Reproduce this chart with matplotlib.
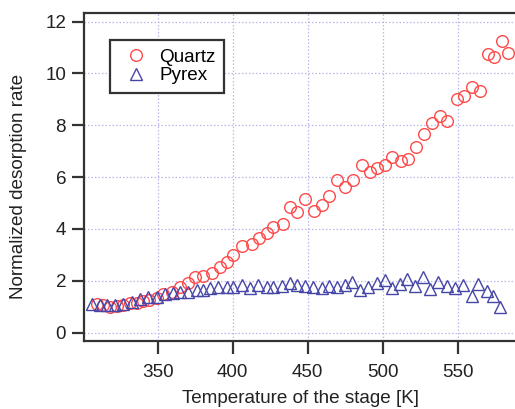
import matplotlib
matplotlib.use("Agg")
import matplotlib.pyplot as plt

plt.rcParams['font.family'] = ['Liberation Sans', 'DejaVu Sans']

# Quartz: temperature [K], normalized rate
quartz_t = [309.3, 313.5, 318.2, 322.7, 326.9, 331.5, 336.0, 340.2, 344.2, 349.3,
            353.5, 359.3, 364.9, 370.2, 374.9, 380.2, 386.0, 391.5, 396.0, 400.2,
            406.0, 412.7, 417.5, 422.7, 426.9, 433.3, 438.2, 442.9, 448.2, 454.2,
            459.3, 464.4, 469.3, 474.9, 480.2, 486.0, 491.5, 496.4, 501.5, 506.4,
            512.0, 516.7, 522.2, 527.5, 532.7, 538.2, 543.1, 549.3, 554.2, 559.5,
            564.8, 570.2, 574.4, 579.3, 583.7]
quartz_r = [1.10, 1.05, 1.00, 1.02, 1.06, 1.13, 1.15, 1.21, 1.25, 1.35,
            1.50, 1.56, 1.75, 1.90, 2.13, 2.19, 2.29, 2.53, 2.74, 3.00,
            3.35, 3.42, 3.65, 3.85, 4.09, 4.19, 4.85, 4.67, 5.16, 4.71,
            4.93, 5.27, 5.89, 5.63, 5.89, 6.47, 6.21, 6.34, 6.47, 6.77,
            6.64, 6.71, 7.18, 7.67, 8.10, 8.36, 8.16, 9.00, 9.13, 9.47,
            9.34, 10.74, 10.63, 11.25, 10.80]

# Pyrex
pyrex_t = [306.0, 311.5, 316.0, 321.5, 327.1, 332.7, 338.2, 343.7, 349.3, 354.9,
           360.4, 364.9, 370.4, 376.0, 380.4, 384.9, 390.4, 396.0, 400.4, 406.0,
           411.5, 417.1, 422.7, 427.1, 432.7, 438.2, 442.7, 448.2, 453.7, 459.3,
           464.4, 469.3, 474.9, 479.3, 484.9, 490.4, 496.0, 501.5, 506.0, 511.5,
           516.0, 521.5, 527.1, 531.5, 537.1, 542.7, 548.2, 553.7, 559.3, 563.7,
           569.3, 573.7, 578.2]
pyrex_r = [1.10, 1.05, 1.08, 1.08, 1.11, 1.17, 1.30, 1.37, 1.39, 1.50,
           1.52, 1.55, 1.58, 1.65, 1.65, 1.71, 1.77, 1.77, 1.77, 1.84,
           1.71, 1.84, 1.77, 1.77, 1.80, 1.93, 1.84, 1.80, 1.77, 1.71,
           1.80, 1.77, 1.84, 1.97, 1.65, 1.77, 1.90, 2.03, 1.71, 1.88,
           2.06, 1.80, 2.13, 1.67, 1.94, 1.80, 1.71, 1.84, 1.42, 1.88,
           1.62, 1.42, 0.98]

x_ticks = [350, 400, 450, 500, 550]
y_ticks = [0, 2, 4, 6, 8, 10, 12]

fs = 13.6

fig = plt.figure(figsize=(5.15, 4.09), dpi=100)
ax = fig.add_axes([0.1637, 0.167, 0.8363, 0.8005])

ax.plot(quartz_t, quartz_r, linestyle='none', marker='o', ms=8.4,
        mfc='none', mec='#ff4a4a', mew=1.0, label='Quartz')
ax.plot(pyrex_t, pyrex_r, linestyle='none', marker='^', ms=9.2,
        mfc='none', mec='#4646a8', mew=1.0, label='Pyrex')

ax.set_xlim(301.1, 588.2)
ax.set_ylim(-0.31, 12.32)
ax.set_xticks(x_ticks)
ax.set_yticks(y_ticks)

ax.grid(True, color='#b8b8ea', linestyle=(0, (1.2, 1.6)), linewidth=0.9)
ax.set_axisbelow(True)

for side in ['left', 'bottom', 'top']:
    ax.spines[side].set_linewidth(1.6)
    ax.spines[side].set_color('#333333')
ax.spines['right'].set_visible(False)

ax.tick_params(axis='both', direction='out', width=1.6, color='#333333',
               labelsize=fs, labelcolor='#222222')
ax.tick_params(axis='x', length=9.5, pad=7)
ax.tick_params(axis='y', length=8.5, pad=4.5)

ax.set_xlabel('Temperature of the stage [K]', fontsize=fs, color='#222222')
ax.set_ylabel('Normalized desorption rate', fontsize=fs, color='#222222')
ax.xaxis.set_label_coords(0.503, -0.152)
ax.yaxis.set_label_coords(-0.134, 0.4725)

leg = ax.legend(loc='upper left', bbox_to_anchor=(0.0597, 0.918), borderaxespad=0,
                fontsize=fs, fancybox=False, framealpha=1, edgecolor='#333333',
                borderpad=0.45, handlelength=1.9, handletextpad=0.25, labelspacing=0.06)
leg.get_frame().set_linewidth(1.6)

fig.savefig('out.png', dpi=100)
